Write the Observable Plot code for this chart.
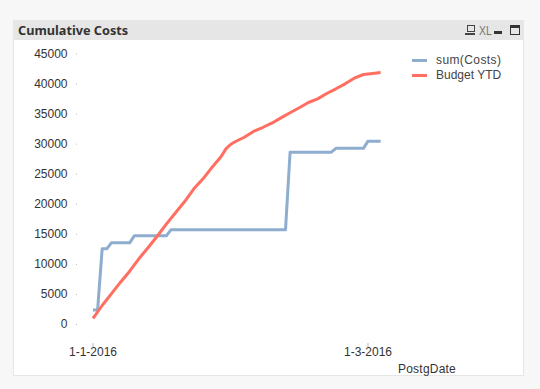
<!DOCTYPE html>
<html>
<head>
<meta charset="utf-8">
<script src="https://cdn.jsdelivr.net/npm/d3@7"></script>
<script src="https://cdn.jsdelivr.net/npm/@observablehq/plot@0.6"></script>
<style>
html,body{margin:0;padding:0;background:#f7f7f7;width:540px;height:389px;overflow:hidden;font-family:"Liberation Sans",Arial,sans-serif}
#panel{position:absolute;left:13px;top:20px;width:509px;height:355px;background:#fff;border:1px solid #e6e6e6;border-top:0}
#head{position:absolute;left:13px;top:20px;width:511px;height:20px;background:#e6e6e6;border-radius:2px 2px 0 0}
#title{position:absolute;left:5px;top:0.5px;font:bold 12.7px/18px "Noto Sans",sans-serif;color:#333;white-space:nowrap}
#chart{position:absolute;left:0;top:0}
.lg{position:absolute;left:436px;font-size:12px;line-height:14px;color:#444;white-space:nowrap}
.sw{position:absolute;left:412px;width:15px;height:2.5px}
.i{position:absolute}
#xlabel{position:absolute;right:84px;top:362px;font-size:12px;line-height:14px;color:#333;white-space:nowrap;letter-spacing:.22px}
</style>
</head>
<body>
<div id="panel"></div>
<div id="head">
  <div id="title">Cumulative Costs</div>
  <div class="i" style="left:454px;top:5px;width:6px;height:5px;border:1px solid #444"></div>
  <div class="i" style="left:452px;top:13px;width:10px;height:0;border-top:1px solid #444;border-bottom:1px solid #444"></div>
  <div class="i" style="left:466px;top:3px;font:13px/15px 'Liberation Sans Narrow','Liberation Sans',sans-serif;color:#777;transform:scaleX(.8);transform-origin:left">XL</div>
  <div class="i" style="left:481px;top:11px;width:8px;height:3px;background:#333"></div>
  <div class="i" style="left:497px;top:5px;width:8px;height:6px;border:1px solid #333;border-top:3px solid #333"></div>
</div>
<div id="chart"></div>
<div class="sw" style="top:59px;background:#8fadcf"></div>
<div class="lg" style="top:53px;letter-spacing:.4px">sum(Costs)</div>
<div class="sw" style="top:74px;background:#ff6e60"></div>
<div class="lg" style="top:68px">Budget YTD</div>
<div id="xlabel">PostgDate</div>
<script>
const costDates = ["2016-01-01","2016-01-02","2016-01-03","2016-01-04","2016-01-05","2016-01-09","2016-01-10","2016-01-17","2016-01-18","2016-02-12","2016-02-13","2016-02-22","2016-02-23","2016-02-29","2016-03-01","2016-03-03T18:00Z"];
const costValues = [2400,2400,12590,12590,13590,13590,14750,14750,15750,15750,28660,28660,29300,29300,30500,30500];
const budgetDates = ["2016-01-01","2016-01-03","2016-01-05","2016-01-07","2016-01-09","2016-01-11","2016-01-13","2016-01-15","2016-01-17","2016-01-19","2016-01-21","2016-01-23","2016-01-25","2016-01-27","2016-01-29","2016-01-30","2016-01-31","2016-02-01","2016-02-03","2016-02-05","2016-02-07","2016-02-09","2016-02-11","2016-02-13","2016-02-15","2016-02-17","2016-02-19","2016-02-21","2016-02-23","2016-02-25","2016-02-27","2016-02-29","2016-03-02","2016-03-03T18:00Z"];
const budgetValues = [1000,3160,5100,7040,8870,10930,12760,14690,16700,18580,20460,22570,24230,26170,28000,29220,29950,30400,31150,32110,32770,33490,34380,35220,36050,36930,37540,38430,39210,40040,40970,41590,41760,41920];
const yTicks = [0,5000,10000,15000,20000,25000,30000,35000,40000,45000];
const xTicks = ["2016-01-01","2016-03-01"];
const xTickLabels = ["1-1-2016","1-3-2016"];

const costs = costDates.map((d,i)=>({date:new Date(d),value:costValues[i]}));
const budget = budgetDates.map((d,i)=>({date:new Date(d),value:budgetValues[i]}));
const xTickDates = xTicks.map(d=>new Date(d));

const plot = Plot.plot({
  width:540,height:389,
  marginLeft:77,marginRight:84,marginTop:40,marginBottom:46,
  style:{background:"transparent",fontFamily:'"Liberation Sans",Arial,sans-serif',fontSize:"12px"},
  x:{type:"utc",domain:[new Date("2016-01-01"),new Date("2016-03-01")],range:[92.5,367.5]},
  y:{domain:[0,45000],range:[324,53.5]},
  marks:[
    Plot.axisY({ticks:yTicks,tickFormat:d=>String(d),tickSize:1,tickPadding:9,stroke:"#bbb",fill:"#333",label:null}),
    Plot.axisX({ticks:xTickDates,tickFormat:d=>xTickLabels[xTickDates.findIndex(t=>+t===+d)],tickSize:4,tickPadding:0,stroke:"#bbb",fill:"#333",label:null}),
    Plot.line(costs,{x:"date",y:"value",stroke:"#8fadcf",strokeWidth:3,strokeLinecap:"butt",strokeLinejoin:"round"}),
    Plot.line(budget,{x:"date",y:"value",stroke:"#ff6e60",strokeWidth:3,strokeLinecap:"butt",strokeLinejoin:"round"})
  ]
});
document.getElementById("chart").appendChild(plot);
</script>
</body>
</html>
